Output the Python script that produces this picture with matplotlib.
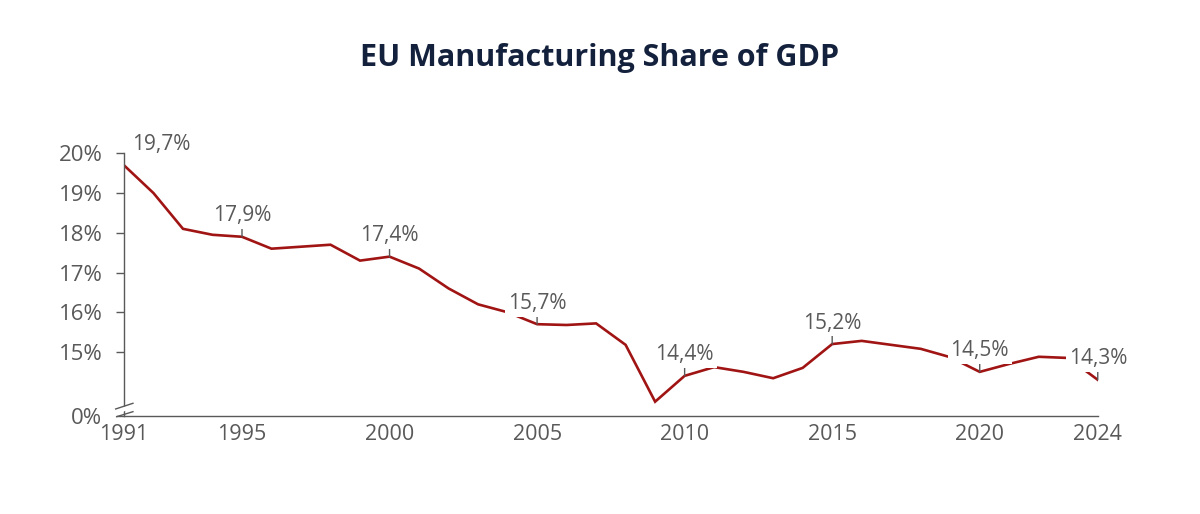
import matplotlib
matplotlib.use('Agg')
import matplotlib.pyplot as plt
from matplotlib.patches import Polygon
from matplotlib.lines import Line2D

# ---- data ----
years = list(range(1991, 2025))
share = [19.7, 19.0, 18.1, 17.95, 17.9, 17.6, 17.65, 17.7, 17.3, 17.4,
         17.1, 16.6, 16.2, 16.0, 15.7, 15.68, 15.72, 15.18, 13.75, 14.4,
         14.62, 14.5, 14.34, 14.6, 15.2, 15.28, 15.18, 15.08, 14.87, 14.5,
         14.7, 14.88, 14.85, 14.3]
label_years = [1991, 1995, 2000, 2005, 2010, 2015, 2020, 2024]
label_texts = ["19,7%", "17,9%", "17,4%", "15,7%", "14,4%", "15,2%", "14,5%", "14,3%"]
x_ticks = [1991, 1995, 2000, 2005, 2010, 2015, 2020, 2024]
y_ticks = [13.39, 15, 16, 17, 18, 19, 20]
y_tick_labels = ["0%", "15%", "16%", "17%", "18%", "19%", "20%"]
title = "EU Manufacturing Share of GDP"

# ---- style ----
FONT = ['Open Sans', 'DejaVu Sans']
plt.rcParams['font.family'] = FONT
GRAY = '#595959'
RED = '#A01414'
NAVY = '#14213D'

fig = plt.figure(figsize=(12, 5.14), dpi=100)
ax = fig.add_axes([0.1033, 0.1907, 0.8115, 0.511])

ax.plot(years, share, color=RED, lw=1.9, zorder=2, solid_joinstyle='miter')

ax.set_xlim(1991, 2024)
ax.set_ylim(y_ticks[0], 20)
ax.set_xticks(x_ticks)
ax.set_xticklabels([str(v) for v in x_ticks])
ax.set_yticks(y_ticks)
ax.set_yticklabels(y_tick_labels)

for s in ['top', 'right']:
    ax.spines[s].set_visible(False)
for s in ['left', 'bottom']:
    ax.spines[s].set_color(GRAY)
    ax.spines[s].set_linewidth(1.0)

ax.tick_params(axis='y', length=5.5, width=1.0, color=GRAY, pad=10,
               labelsize=16, labelcolor=GRAY)
ax.tick_params(axis='x', length=0, pad=6, labelsize=15.5, labelcolor=GRAY)

# value labels
val = dict(zip(years, share))
for yr, txt in zip(label_years, label_texts):
    v = val[yr]
    if yr == years[0]:
        ax.annotate(txt, xy=(yr, v), xytext=(8, 21), textcoords='offset pixels',
                    ha='left', va='center', fontsize=15, color=GRAY,
                    annotation_clip=False, zorder=5)
        continue
    ax.annotate('', xy=(yr, v), xytext=(0, 9), textcoords='offset pixels',
                arrowprops=dict(arrowstyle='-', color=GRAY, lw=1.0,
                                shrinkA=0, shrinkB=0),
                annotation_clip=False, zorder=3)
    ax.annotate(txt, xy=(yr, v), xytext=(0, 21), textcoords='offset pixels',
                ha='center', va='center', fontsize=15, color=GRAY,
                bbox=dict(boxstyle='square,pad=0.14', fc='white', ec='none'),
                annotation_clip=False, zorder=4)

# axis break symbol
W, H = 0.8115 * 1200, 0.511 * 514
def ax_pt(dx, dy):
    return (dx / W, dy / H)
gap = Polygon([ax_pt(-4, 3.2), ax_pt(4, 6.0), ax_pt(4, 10.4), ax_pt(-4, 8.2)],
              closed=True, transform=ax.transAxes, fc='white', ec='none',
              clip_on=False, zorder=6)
ax.add_patch(gap)
for (x0, y0, x1, y1) in [(-8.3, 7.0, 9, 12.7), (-7.3, -0.7, 9, 4.3)]:
    p0, p1 = ax_pt(x0, y0), ax_pt(x1, y1)
    ax.add_line(Line2D([p0[0], p1[0]], [p0[1], p1[1]], transform=ax.transAxes,
                       color=GRAY, lw=1.0, clip_on=False, zorder=7))

fig.text(0.5, 1 - 58 / 514, title, ha='center', va='center', fontsize=22,
         fontweight='bold', color=NAVY, family=FONT)

fig.savefig('out.png', dpi=100, facecolor='white')
